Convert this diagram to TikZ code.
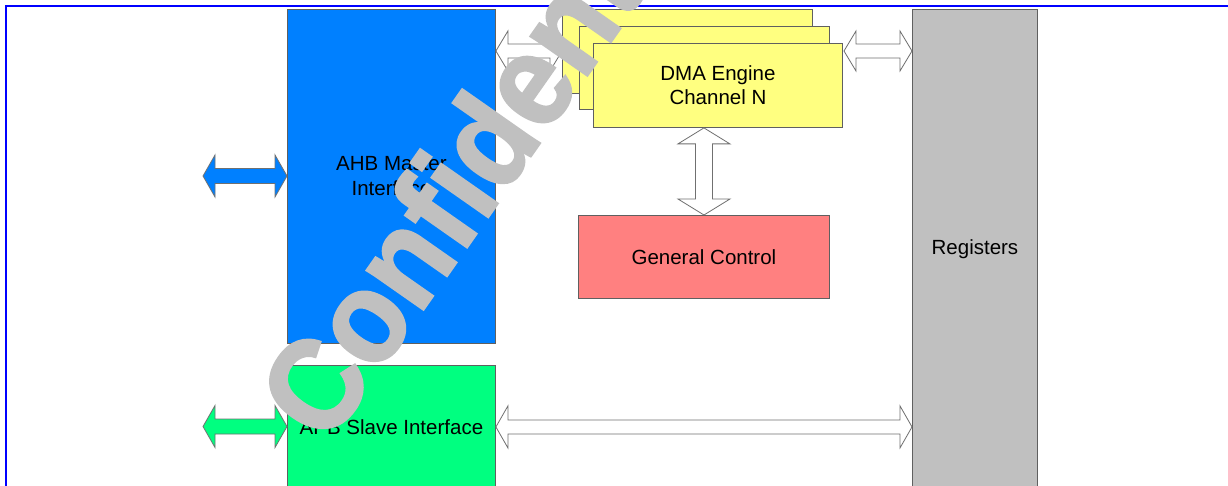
\documentclass[tikz,border=0pt]{standalone}
\usepackage{fontspec}
\setmainfont{Liberation Sans}
\newfontfamily\markfont[FakeBold=2]{Liberation Sans Bold}
\usetikzlibrary{calc}

\definecolor{ahbblue}{RGB}{0,128,255}
\definecolor{apbgreen}{RGB}{0,255,128}
\definecolor{dmayellow}{RGB}{255,255,128}
\definecolor{ctrlred}{RGB}{255,128,128}
\definecolor{reggray}{RGB}{192,192,192}
\definecolor{edgegray}{RGB}{96,96,96}
\definecolor{arrowedge}{RGB}{112,112,112}
\definecolor{markgray}{RGB}{192,192,192}
\definecolor{frameblue}{RGB}{0,0,255}

\tikzset{
  block/.style={draw=edgegray, line width=0.9pt, rectangle, inner sep=0pt,
    anchor=north west, align=center, font=\fontsize{20.5}{25}\selectfont},
  busarrow/.style={draw=arrowedge, line width=0.8pt, fill=white, line join=miter},
  frameline/.style={draw=frameblue, line width=1.4pt},
  markstyle/.style={rotate=55, xscale=0.92, anchor=base west, inner sep=0pt,
    text=markgray, font=\markfont\fontsize{130}{130}\selectfont},
}

% horizontal two-headed block arrow: style, left tip, right tip,
% head half-height, shaft half-height, head length
\newcommand\hbiarrow[6]{%
  \path[#1] let \p1=#2, \p2=#3 in
    (\x1,\y1) -- (\x1+#6,\y1+#4) -- (\x1+#6,\y1+#5) -- (\x2-#6,\y1+#5)
    -- (\x2-#6,\y1+#4) -- (\x2,\y1) -- (\x2-#6,\y1-#4) -- (\x2-#6,\y1-#5)
    -- (\x1+#6,\y1-#5) -- (\x1+#6,\y1-#4) -- cycle;}

% vertical two-headed block arrow: style, top tip, bottom tip,
% head half-width, shaft half-width, head length
\newcommand\vbiarrow[6]{%
  \path[#1] let \p1=#2, \p2=#3 in
    (\x1,\y1) -- (\x1+#4,\y1-#6) -- (\x1+#5,\y1-#6) -- (\x1+#5,\y2+#6)
    -- (\x1+#4,\y2+#6) -- (\x1,\y2) -- (\x1-#4,\y2+#6) -- (\x1-#5,\y2+#6)
    -- (\x1-#5,\y1-#6) -- (\x1-#4,\y1-#6) -- cycle;}

\begin{document}
\begin{tikzpicture}[x=1pt, y=-1pt]
  \useasboundingbox (0,0) rectangle (1228,486);
  \clip (0,0) rectangle (1228,486);
  \fill[white] (0,0) rectangle (1228,486);

  % page frame
  \draw[frameline] (6,6) rectangle (1260,520);

  % functional blocks
  \node[block, fill=ahbblue, minimum width=208pt, minimum height=334pt] (ahb) at (287,9)
    {AHB Master\\Interface};
  \node[block, fill=apbgreen, minimum width=208pt, minimum height=123pt] (apb) at (287,365)
    {APB Slave Interface};
  \node[block, fill=reggray, minimum width=125pt, minimum height=480pt] (regs) at (912,9)
    {Registers};
  \node[block, fill=ctrlred, minimum width=251pt, minimum height=83pt] (gc) at (578,215)
    {General Control};

  % bus between master interface and the channel stack
  \hbiarrow{busarrow}{(ahb.east |- 0,51)}{(562,51)}{20pt}{7pt}{12pt}

  % stacked DMA channels
  \node[block, fill=dmayellow, minimum width=250pt, minimum height=84pt] (dma3) at (562,9) {};
  \node[block, fill=dmayellow, minimum width=250pt, minimum height=83pt] (dma2) at (579,26) {};
  \node[block, fill=dmayellow, minimum width=249pt, minimum height=84pt,
        font=\fontsize{20.5}{24}\selectfont] (dma1) at (593,43) {DMA Engine\\Channel N};

  % external bus ports
  \coordinate (ahbport) at (203,176);
  \coordinate (apbport) at (203,426.5);
  \hbiarrow{busarrow, fill=ahbblue}{(ahbport)}{(ahb.west)}{21pt}{7.5pt}{12pt}
  \hbiarrow{busarrow, fill=apbgreen}{(apbport)}{(apbport -| apb.west)}{21pt}{7.5pt}{12pt}

  % internal buses
  \hbiarrow{busarrow}{(844,51)}{(regs.west |- dma3.west)}{20pt}{7pt}{12pt}
  \hbiarrow{busarrow}{(apb.east)}{(regs.west |- apb.east)}{21pt}{7pt}{12pt}
  \vbiarrow{busarrow}{(gc.north |- dma1.south)}{(gc.north)}{26pt}{8.5pt}{16pt}

  % watermark
  \node[markstyle] (mark) at (327,447) {Confidential};
\end{tikzpicture}
\end{document}
